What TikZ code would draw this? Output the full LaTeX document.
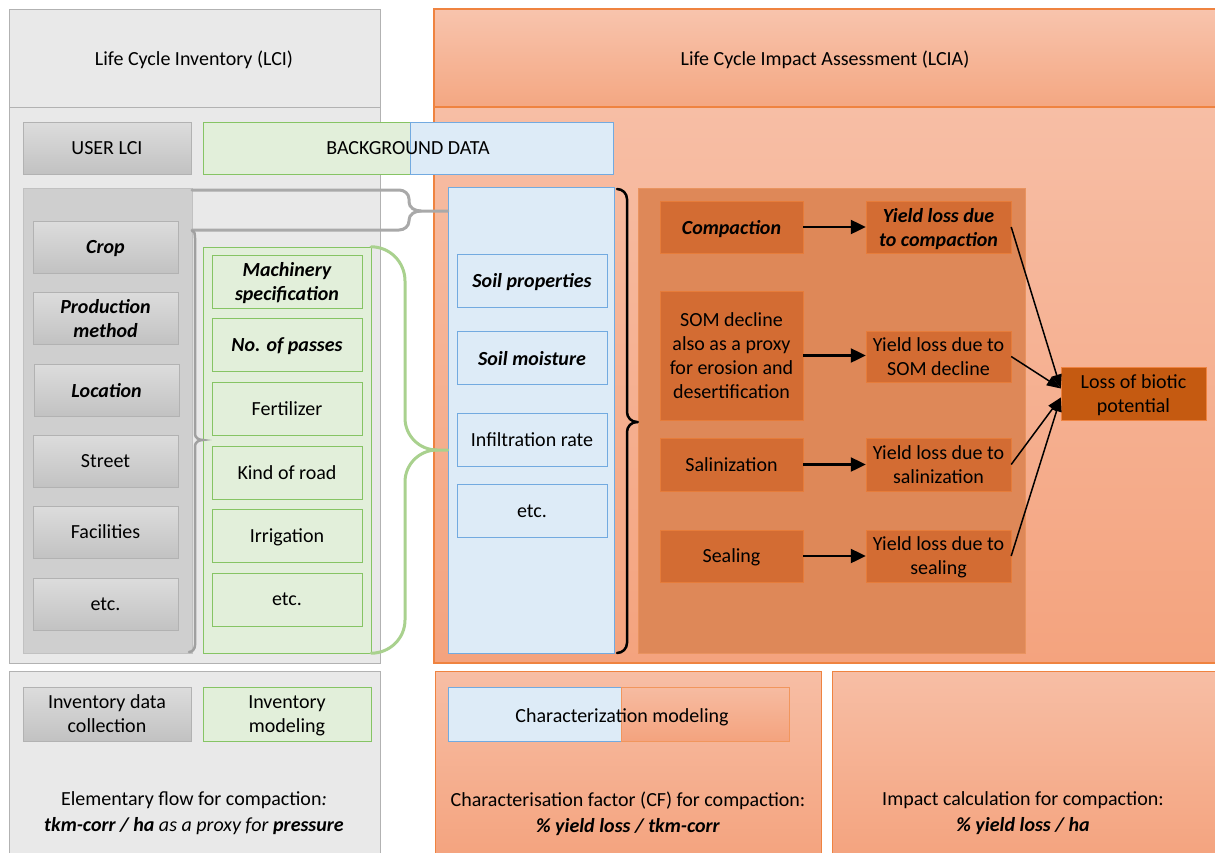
\documentclass[tikz,border=0pt]{standalone}
\usepackage{fontspec}
\setmainfont{Carlito}
\usetikzlibrary{arrows.meta}

\definecolor{nenxam}{HTML}{E9E9E9}
\definecolor{vienxam}{HTML}{B2B2B2}
\definecolor{xamtren}{HTML}{DCDCDC}
\definecolor{xamduoi}{HTML}{C2C2C2}
\definecolor{cotxam}{HTML}{CFCFCF}
\definecolor{nenla}{HTML}{E2EFDA}
\definecolor{vienla}{HTML}{86C464}
\definecolor{ngoacla}{HTML}{A9D18E}
\definecolor{nenlam}{HTML}{DDEBF7}
\definecolor{vienlam}{HTML}{72AAE0}
\definecolor{vienvang}{HTML}{EF8340}
\definecolor{dautren}{HTML}{F8C4AD}
\definecolor{dauduoi}{HTML}{F4A782}
\definecolor{thantren}{HTML}{F7BEA5}
\definecolor{thanduoi}{HTML}{F4A37E}
\definecolor{camnhat}{HTML}{DE8858}
\definecolor{viencamnhat}{HTML}{E9935F}
\definecolor{camdam}{HTML}{D36C33}
\definecolor{viencamdam}{HTML}{E67C3A}
\definecolor{nau}{HTML}{C55A11}

\begin{document}
\begin{tikzpicture}[x=1pt,y=-1pt,font=\fontsize{20}{24}\selectfont,every node/.append style={text depth=0pt}]
	\tikzset{
		xam/.style={draw=vienxam, top color=xamtren, bottom color=xamduoi, minimum width=145, minimum height=52, align=center, inner sep=1},
		la/.style={draw=vienla, fill=nenla, minimum width=150, minimum height=53, align=center, inner sep=1},
		lam/.style={draw=vienlam, fill=nenlam, minimum width=150, minimum height=53, align=center, inner sep=1},
		cam/.style={draw=viencamdam, fill=camdam, minimum width=143, minimum height=52, align=center, inner sep=1},
		bi/.style={font=\fontsize{20}{24}\selectfont\bfseries\itshape},
		dam/.style={line width=2.2pt, -{Triangle[length=15pt,width=14pt]}},
		manh/.style={line width=1.5pt, -{Triangle[length=14pt,width=10pt]}},
		ngoac/.style={line width=#1, line cap=round}
	}
	\useasboundingbox (0,0) rectangle (1215,852);

	% LCI
	\draw[draw=vienxam, fill=nenxam] (9,9) rectangle (380,663);
	\draw[vienxam] (9,107) -- (380,107);
	\node (lci) at (194,58) {Life Cycle Inventory (LCI)};

	% LCIA
	\draw[draw=vienvang, line width=1.5pt, top color=thantren, bottom color=thanduoi] (434,107) rectangle (1225,663);
	\draw[draw=vienvang, line width=1.5pt, top color=dautren, bottom color=dauduoi] (434,9) rectangle (1225,107);
	\node (lcia) at (825,58) {Life Cycle Impact Assessment (LCIA)};

	% hang tren
	\node[xam, minimum width=168] (user) at (107,148) {USER LCI};
	\node[la, minimum width=207, minimum height=52] (bgla) at (306.5,148) {};
	\node[lam, minimum width=203, minimum height=52] (bglam) at (511.5,148) {};
	\node (bg) at (408,148) {BACKGROUND DATA};

	% cot xam
	\node[draw=vienxam!80, fill=cotxam, minimum width=169, minimum height=465] (cot) at (107.5,420.5) {};
	\node[xam, bi] (crop) at (105.5,247) {Crop};
	\node[xam, bi] (prod) at (105.5,318) {Production\\method};
	\node[xam, bi] (loc) at (106.5,390) {Location};
	\node[xam] (street) at (105.5,461) {Street};
	\node[xam] (fac) at (105.5,532) {Facilities};
	\node[xam] (etc1) at (105.5,604) {etc.};

	% cot la
	\node[draw=vienla, fill=nenla, minimum width=168, minimum height=406] (cotla) at (287,450) {};
	\node[la, bi] (mach) at (287,281.5) {Machinery\\specification};
	\node[la, bi] (pass) at (287,345) {No. of passes};
	\node[la] (fert) at (287,408.5) {Fertilizer};
	\node[la] (road) at (287,472.5) {Kind of road};
	\node[la] (irr) at (287,536) {Irrigation};
	\node[la] (etc2) at (287,599.5) {etc.};

	% cot lam
	\node[draw=vienlam, fill=nenlam, minimum width=166, minimum height=466] (cotlam) at (531,420) {};
	\node[lam, bi] (prop) at (532,280.5) {Soil properties};
	\node[lam, bi] (moist) at (532,358) {Soil moisture};
	\node[lam] (infil) at (532,440) {Infiltration rate};
	\node[lam] (etc3) at (532,511) {etc.};

	% khung cam
	\node[draw=viencamnhat, fill=camnhat, minimum width=387, minimum height=465] (khung) at (831.5,420.5) {};
	\node[cam, bi] (comp) at (731.5,227) {Compaction};
	\node[cam, minimum height=129] (som) at (731.5,355.5) {SOM decline\\also as a proxy\\for erosion and\\desertification};
	\node[cam, minimum height=53] (sal) at (731.5,464.5) {Salinization};
	\node[cam] (seal) at (731.5,556) {Sealing};
	\node[cam, bi, minimum width=145] (ycomp) at (938.5,227) {Yield loss due\\to compaction};
	\node[cam, minimum width=145, minimum height=51] (ysom) at (938.5,356.5) {Yield loss due to\\SOM decline};
	\node[cam, minimum width=145, minimum height=53] (ysal) at (938.5,464.5) {Yield loss due to\\salinization};
	\node[cam, minimum width=145] (yseal) at (938.5,556) {Yield loss due to\\sealing};
	\node[cam, draw=vienvang, fill=nau, minimum width=145, minimum height=53] (loss) at (1133.5,393.5) {Loss of biotic\\potential};

	\draw[dam] (comp) -- (ycomp);
	\draw[dam] (som) -- (som -| ysom.west);
	\draw[dam] (sal) -- (ysal);
	\draw[dam] (seal) -- (yseal);
	\draw[manh] (ycomp.east) -- ([yshift=5pt]loss.west);
	\draw[manh] (ysom.east) -- ([yshift=5pt]loss.west);
	\draw[manh] (ysal.east) -- ([yshift=-4pt]loss.west);
	\draw[manh] (yseal.east) -- ([yshift=-4pt]loss.west);

	% ngoac
	\draw[ngoac=3pt, color=vienxam!95!black] (192,190) -- (399,190) to[out=0,in=90] (409,199) -- (409,202) to[out=-90,in=180] (421,211) -- (cotlam.west |- 0,211);
	\draw[ngoac=3pt, color=vienxam!95!black] (192,230) -- (399,230) to[out=0,in=-90] (409,221) -- (409,220) to[out=90,in=180] (421,211);
	\draw[ngoac=2.5pt, color=vienxam!90!black] (192,231) to[out=0,in=90] (195,238) -- (195,434) to[out=-90,in=180] (cotla.west |- 0,440) to[out=180,in=90] (195,446) -- (195,645) to[out=-90,in=0] (189,652);
	\draw[ngoac=3pt, color=ngoacla] (cotla.north east) to[out=0,in=90] (405,281) -- (405,418) to[out=-90,in=180] (437,450) -- (cotlam.west |- 0,450);
	\draw[ngoac=3pt, color=ngoacla] (437,450) to[out=180,in=90] (405,482) -- (405,620) to[out=-90,in=0] (cotla.south east);
	\draw[ngoac=2.5pt] (617,189) to[out=0,in=90] (627,199) -- (627,412) to[out=-90,in=180] (637,422) -- (khung.west |- 0,422);
	\draw[ngoac=2.5pt] (637,422) to[out=180,in=90] (627,432) -- (627,643) to[out=-90,in=0] (617,653);

	% hang duoi
	\draw[draw=vienxam, fill=nenxam] (9,671) rectangle (380,860);
	\node[xam, minimum width=168, minimum height=54] (collect) at (107,714) {Inventory data\\collection};
	\node[la, minimum width=168, minimum height=54] (model) at (287,714) {Inventory\\modeling};
	\node[align=center, font=\fontsize{20}{26}\selectfont] (flow) at (194,812) {Elementary flow for compaction\textit{:}\\\textbf{\textit{tkm-corr / ha}} \textit{as a proxy for} \textbf{\textit{pressure}}};

	\draw[draw=vienvang, line width=1pt, top color=thantren, bottom color=thanduoi] (435,671) rectangle (821,860);
	\node[lam, minimum width=173, minimum height=54] (charlam) at (534.5,714) {};
	\node[draw=vienvang!85, top color=thantren!90!dauduoi, bottom color=thanduoi, minimum width=168, minimum height=54] (charcam) at (705,714) {};
	\node (char) at (622,716) {Characterization modeling};
	\node[align=center, font=\fontsize{20}{26}\selectfont] (cf) at (628,812) {Characterisation factor (CF) for compaction:\\\textbf{\textit{\% yield loss / tkm-corr}}};

	\draw[draw=vienvang, line width=1pt, top color=thantren, bottom color=thanduoi] (832,671) rectangle (1225,860);
	\node[align=center, font=\fontsize{20}{26}\selectfont] (impact) at (1023,812) {Impact calculation for compaction:\\\textbf{\textit{\% yield loss / ha}}};
\end{tikzpicture}
\end{document}
